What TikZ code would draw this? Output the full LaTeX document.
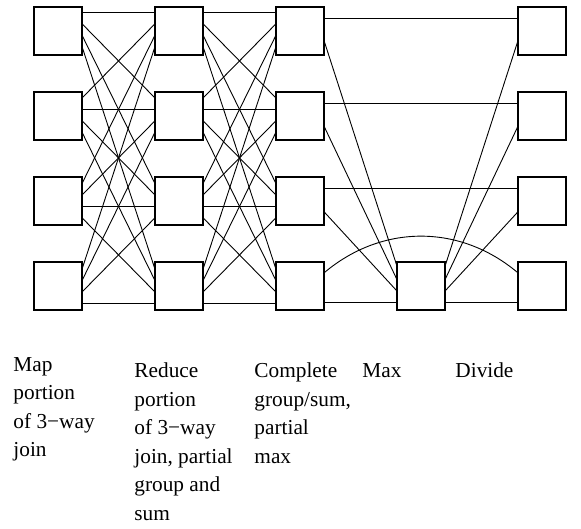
\documentclass[tikz,border=0pt]{standalone}
\usepackage{fontspec}
\setmainfont{Liberation Serif}

\begin{document}
\begin{tikzpicture}[x=0.5pt, y=-0.5pt, line width=0.45pt,
  box/.style={rectangle, draw=black, line width=0.6pt, minimum size=24pt, inner sep=0pt},
  lbl/.style={anchor=north west, align=left, inner sep=0pt, font=\fontsize{10.65pt}{14.25pt}\selectfont}]
\useasboundingbox (0,0) rectangle (581,528);

% map, reduce, complete and divide columns
\foreach \i/\y in {1/31, 2/116, 3/201, 4/286} {
  \node[box] (m\i) at (58,\y) {};
  \node[box] (r\i) at (179,\y) {};
  \node[box] (c\i) at (300,\y) {};
  \node[box] (d\i) at (542,\y) {};
}
\node[box] (mx) at (421,286) {};

% all to all between the first three columns
\foreach \j in {1,...,4} {
  \foreach \k in {1,...,4} {
    \draw ([yshift={(3-6*\k)*1pt}]m\j.north east) -- ([yshift={(3-6*\j)*1pt}]r\k.north west);
    \draw ([yshift={(3-6*\k)*1pt}]r\j.north east) -- ([yshift={(3-6*\j)*1pt}]c\k.north west);
  }
}

% complete -> max -> divide
\foreach \i/\p in {1/1.5, 2/8.5, 3/14.5} {
  \draw ([yshift=-6pt]c\i.north east) -- ([yshift=-6pt]d\i.north west);
  \draw ([yshift=-18pt]c\i.north east) -- ([yshift={-\p*1pt}]mx.north west);
  \draw ([yshift={-\p*1pt}]mx.north east) -- ([yshift=-18pt]d\i.north west);
}
\draw ([yshift=-20.5pt]c4.north east) -- ([yshift=-20.5pt]mx.north west);
\draw ([yshift=-20.5pt]mx.north east) -- ([yshift=-20.5pt]d4.north west);
\draw ([yshift=-5.5pt]c4.north east) to[bend left=40] ([yshift=-5.5pt]d4.north west);

\node[lbl] (tmap) at (13,357) {Map\\portion\\of 3−way\\join};
\node[lbl] (tred) at (134,362.5) {Reduce\\portion\\of 3−way\\join, partial\\group and\\sum};
\node[lbl] (tcomp) at (254,362.5) {Complete\\group/sum,\\partial\\max};
\node[lbl] (tmax) at (362,363.5) {Max};
\node[lbl] (tdiv) at (455,362.5) {Divide};
\end{tikzpicture}
\end{document}
